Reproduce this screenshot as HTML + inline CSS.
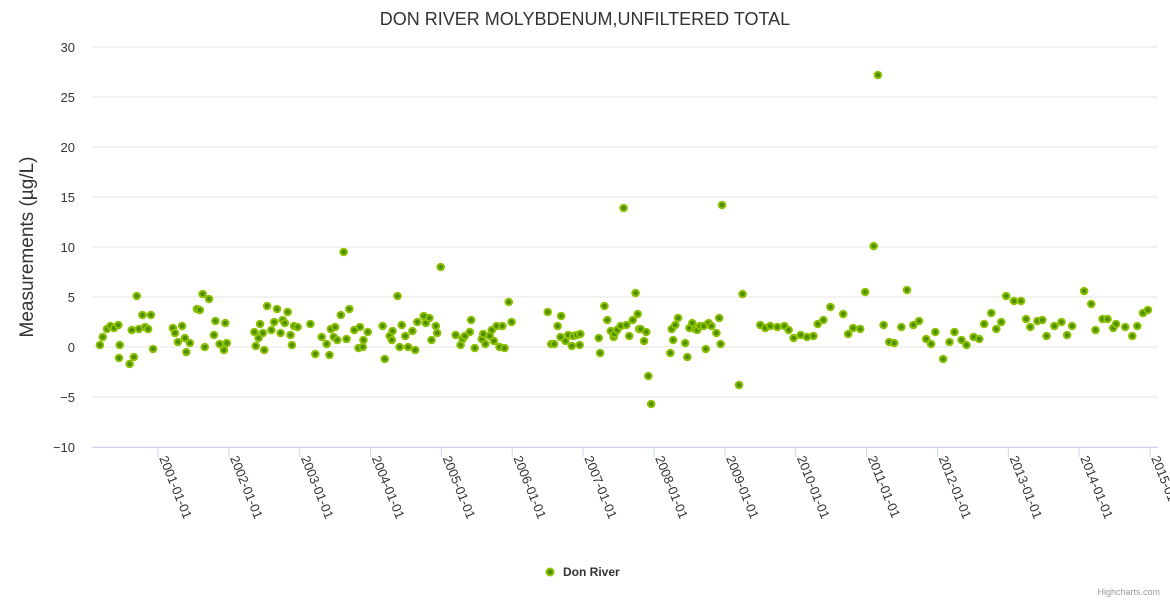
<!DOCTYPE html>
<html><head><meta charset="utf-8"><style>
body{margin:0;background:#fff;font-family:"Liberation Sans",sans-serif;}
svg{display:block}
</style></head><body>
<svg id="chart" width="1170" height="600" xmlns="http://www.w3.org/2000/svg">
<rect width="1170" height="600" fill="#fff"/>
<text x="585" y="25" text-anchor="middle" font-size="18" fill="#333">DON RIVER MOLYBDENUM,UNFILTERED TOTAL</text>
<text transform="translate(33,247) rotate(-90)" text-anchor="middle" font-size="19" fill="#333">Measurements (µg/L)</text>
<g id="grid"></g><g id="xaxis"></g><g id="points"></g>
<g>
<circle cx="550" cy="572" r="3.5" fill="#4d8f00" stroke="#8cc000" stroke-width="2"/>
<text x="563" y="576" font-size="12" font-weight="bold" fill="#333">Don River</text>
</g>
<text x="1160" y="595" text-anchor="end" font-size="9" fill="#999">Highcharts.com</text>
</svg>
<script>
const yTicks=[-10,-5,0,5,10,15,20,25,30];
const xTickYears=[2001,2002,2003,2004,2005,2006,2007,2008,2009,2010,2011,2012,2013,2014,2015];
const xTickLabels=["2001-01-01","2002-01-01","2003-01-01","2004-01-01","2005-01-01","2006-01-01","2007-01-01","2008-01-01","2009-01-01","2010-01-01","2011-01-01","2012-01-01","2013-01-01","2014-01-01","2015-01-01"];
const dates=[2000.18,2000.22,2000.28,2000.33,2000.38,2000.44,2000.46,2000.45,2000.60,2000.66,2000.63,2000.70,2000.73,2000.78,2000.82,2000.86,2000.90,2000.93,
2001.21,2001.24,2001.34,2001.28,2001.38,2001.40,2001.45,2001.55,2001.59,2001.63,2001.72,2001.66,2001.79,2001.81,2001.87,2001.93,2001.95,2001.97,
2002.36,2002.38,2002.42,2002.44,2002.48,2002.50,2002.54,2002.60,2002.64,2002.68,2002.73,2002.76,2002.79,2002.83,2002.87,2002.89,2002.92,2002.97,
2003.15,2003.22,2003.31,2003.38,2003.42,2003.44,2003.50,2003.48,2003.53,2003.58,2003.62,2003.66,2003.70,2003.77,2003.85,2003.83,2003.89,2003.90,2003.96,
2004.17,2004.20,2004.27,2004.30,2004.31,2004.38,2004.41,2004.44,2004.49,2004.53,2004.59,2004.63,2004.66,2004.75,2004.78,2004.83,2004.86,2004.92,2004.94,2004.99,
2005.20,2005.27,2005.30,2005.33,2005.40,2005.42,2005.47,2005.57,2005.59,2005.62,2005.68,2005.71,2005.74,2005.78,2005.82,2005.86,2005.89,2005.95,2005.99,
2006.50,2006.55,2006.59,2006.64,2006.69,2006.68,2006.75,2006.79,2006.84,2006.86,2006.91,2006.95,2006.96,
2007.22,2007.24,2007.30,2007.34,2007.39,2007.43,2007.44,2007.48,2007.53,2007.57,2007.61,2007.65,2007.70,2007.74,2007.77,2007.79,2007.81,2007.86,2007.89,2007.92,2007.96,
2008.23,2008.25,2008.27,2008.30,2008.34,2008.44,2008.47,2008.50,2008.54,2008.58,2008.61,2008.65,2008.70,2008.73,2008.77,2008.81,2008.88,2008.92,2008.94,2008.96,
2009.20,2009.25,2009.50,2009.57,2009.64,2009.74,2009.84,2009.90,2009.97,2010.07,2010.16,2010.25,2010.31,2010.39,2010.49,2010.67,2010.74,2010.81,2010.91,2010.98,
2011.10,2011.16,2011.24,2011.32,2011.39,2011.49,2011.57,2011.66,2011.74,2011.84,2011.91,2011.97,
2012.08,2012.17,2012.24,2012.34,2012.41,2012.51,2012.59,2012.66,2012.76,2012.83,2012.90,2012.97,
2013.08,2013.18,2013.25,2013.31,2013.41,2013.48,2013.54,2013.65,2013.75,2013.83,2013.90,
2014.07,2014.17,2014.23,2014.33,2014.40,2014.48,2014.52,2014.65,2014.75,2014.82,2014.90,2014.97];
const values=[0.2,1.0,1.8,2.1,1.9,2.2,0.2,-1.1,-1.7,-1.0,1.7,5.1,1.8,3.2,2.0,1.8,3.2,-0.2,
1.9,1.4,2.1,0.5,0.9,-0.5,0.4,3.8,3.7,5.3,4.8,0.0,1.2,2.6,0.3,-0.3,2.4,0.4,
1.5,0.1,0.9,2.3,1.4,-0.3,4.1,1.7,2.5,3.8,1.4,2.7,2.4,3.5,1.2,0.2,2.1,2.0,
2.3,-0.7,1.0,0.3,-0.8,1.8,2.0,1.0,0.7,3.2,9.5,0.8,3.8,1.7,2.0,-0.1,0.0,0.7,1.5,
2.1,-1.2,1.1,0.7,1.6,5.1,0.0,2.2,1.1,0.0,1.6,-0.3,2.5,3.1,2.4,2.9,0.7,2.1,1.4,8.0,
1.2,0.2,0.8,1.1,1.5,2.7,-0.1,0.8,1.3,0.3,1.1,1.7,0.6,2.1,0.0,2.1,-0.1,4.5,2.5,
3.5,0.3,0.3,2.1,3.1,1.0,0.6,1.2,0.1,1.1,1.2,0.2,1.3,
0.9,-0.6,4.1,2.7,1.6,1.0,1.3,1.7,2.1,13.9,2.2,1.1,2.7,5.4,3.3,1.8,1.8,0.6,1.5,-2.9,-5.7,
-0.6,1.8,0.7,2.2,2.9,0.4,-1.0,1.9,2.4,1.8,1.7,2.1,2.1,-0.2,2.4,2.1,1.4,2.9,0.3,14.2,
-3.8,5.3,2.2,1.9,2.1,2.0,2.1,1.7,0.9,1.2,1.0,1.1,2.3,2.7,4.0,3.3,1.3,1.9,1.8,5.5,
10.1,27.2,2.2,0.5,0.4,2.0,5.7,2.2,2.6,0.8,0.3,1.5,
-1.2,0.5,1.5,0.7,0.2,1.0,0.8,2.3,3.4,1.8,2.5,5.1,
4.6,4.6,2.8,2.0,2.6,2.7,1.1,2.1,2.5,1.2,2.1,
5.6,4.3,1.7,2.8,2.8,1.9,2.3,2.0,1.1,2.1,3.4,3.7];
const NS="http://www.w3.org/2000/svg";
const L=92,R=1158,T=47,B=447;
const yMin=-10,yMax=30;
function yS(v){return B-(v-yMin)/(yMax-yMin)*(B-T);}
function xS(t){return 158+(t-2001)*70.86;}
const grid=document.getElementById('grid');
yTicks.forEach(v=>{
 const ln=document.createElementNS(NS,'line');
 
 
 ln.setAttribute('x1',L);ln.setAttribute('x2',R);ln.setAttribute('y1',yS(v));ln.setAttribute('y2',yS(v));
 ln.setAttribute('stroke','#e6e6e6');ln.setAttribute('stroke-width','1');
 grid.appendChild(ln);
 const tx=document.createElementNS(NS,'text');
 
 
 tx.setAttribute('x',75);tx.setAttribute('y',yS(v)+5);tx.setAttribute('text-anchor','end');
 tx.setAttribute('font-size','13');tx.setAttribute('fill','#333');
 tx.textContent=(v<0?'\u2212'+(-v):v);
 grid.appendChild(tx);
});
const xa=document.getElementById('xaxis');
const axl=document.createElementNS(NS,'line');


axl.setAttribute('x1',L);axl.setAttribute('x2',R);axl.setAttribute('y1',B+0.5);axl.setAttribute('y2',B+0.5);
axl.setAttribute('stroke','#ccd6eb');
xa.appendChild(axl);
xTickYears.forEach((yr,i)=>{
 const x=xS(yr);
 const tk=document.createElementNS(NS,'line');
 
 
 tk.setAttribute('x1',x);tk.setAttribute('x2',x);tk.setAttribute('y1',B);tk.setAttribute('y2',B+10);
 tk.setAttribute('stroke','#ccd6eb');
 xa.appendChild(tk);
 const tx=document.createElementNS(NS,'text');
 
 
 tx.setAttribute('transform','translate('+(x+1)+','+(B+11)+') rotate(68)');
 tx.setAttribute('font-size','13');tx.setAttribute('fill','#333');
 tx.textContent=xTickLabels[i];
 xa.appendChild(tx);
});
const pts=document.getElementById('points');
dates.forEach((d,i)=>{
 const c=document.createElementNS(NS,'circle');
 
 
 c.setAttribute('cx',xS(d));c.setAttribute('cy',yS(values[i]));c.setAttribute('r','3.3');
 c.setAttribute('fill','#4d8f00');c.setAttribute('stroke','#8cc000');c.setAttribute('stroke-width','2');
 pts.appendChild(c);
});
</script>
</body></html>
